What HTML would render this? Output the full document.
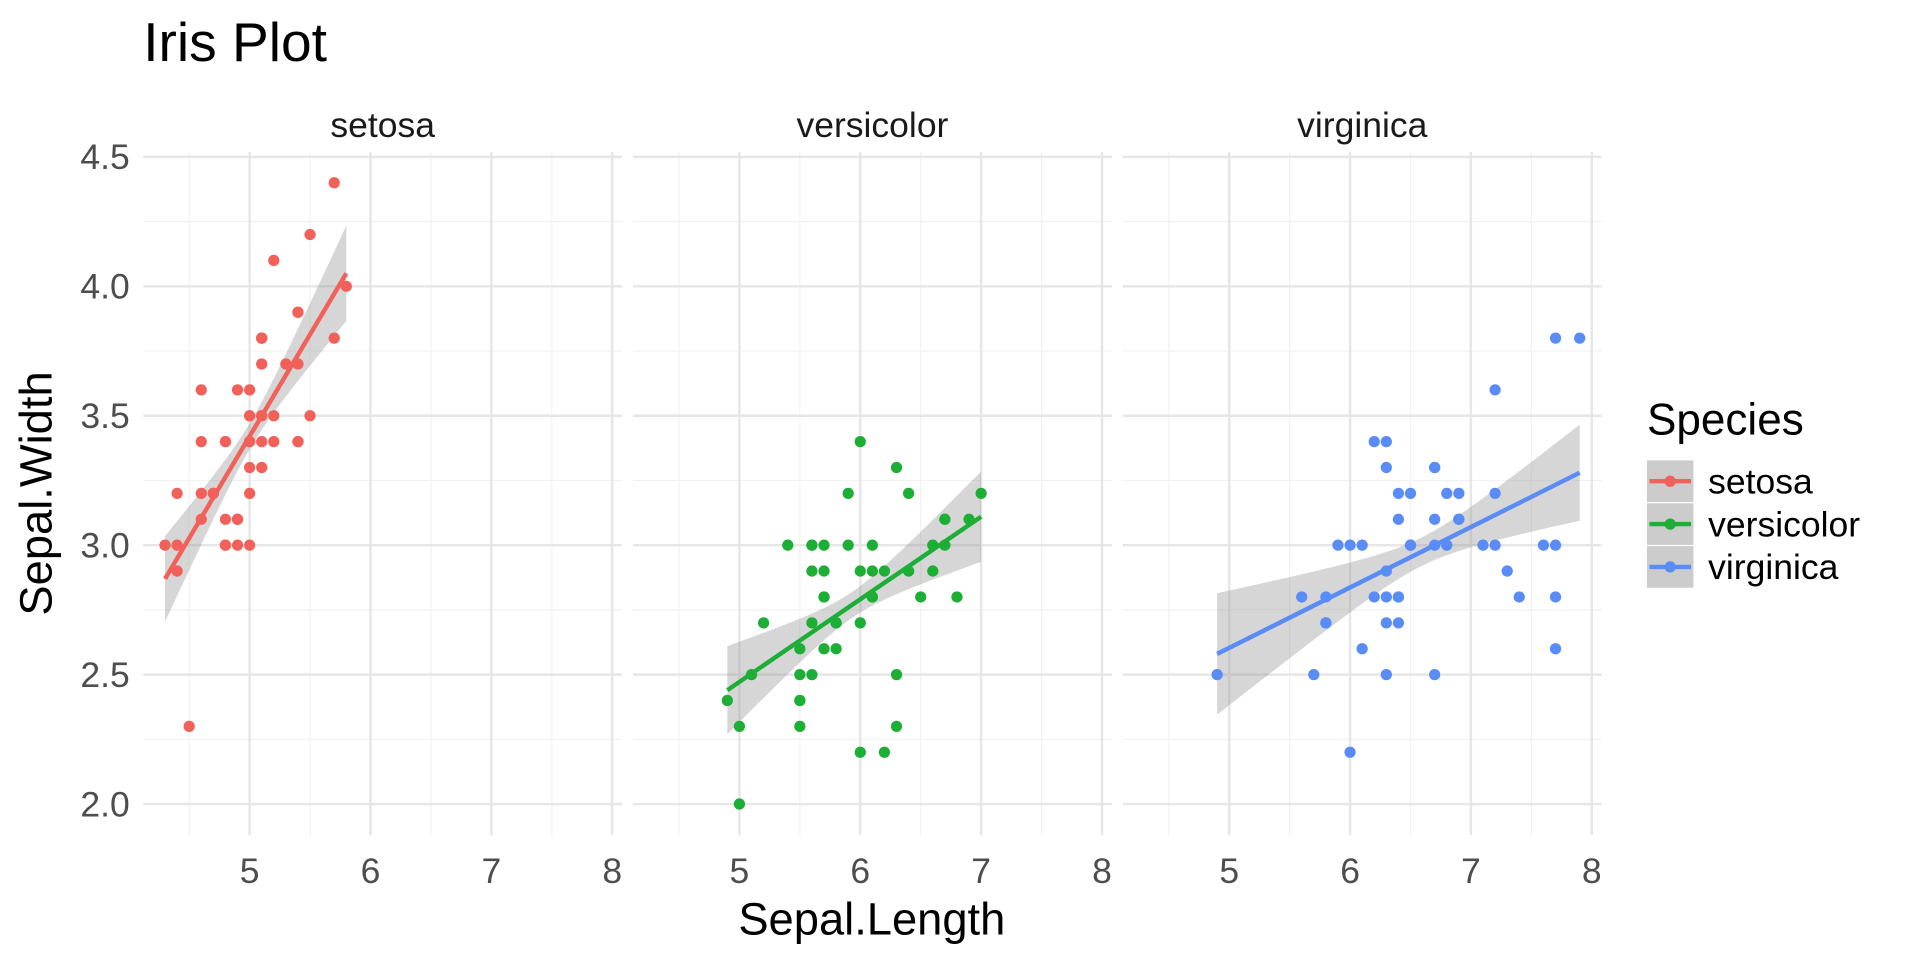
<!DOCTYPE html>
<html><head><meta charset="utf-8"><style>
html,body{margin:0;padding:0;background:#fff}
svg{display:block;font-family:"Liberation Sans",sans-serif}
</style></head><body>
<svg id="s" width="1920" height="960" viewBox="0 0 1568 784" xmlns="http://www.w3.org/2000/svg">
<rect width="1568" height="784" fill="#fff"/>
<g id="grid"></g><g id="bands"></g><g id="pts"></g><g id="lines"></g><g id="txt"></g>
<text x="117" y="50" font-size="45" fill="#000">Iris Plot</text>
<text x="712" y="763" font-size="37" text-anchor="middle" fill="#000">Sepal.Length</text>
<text transform="translate(42,403) rotate(-90)" font-size="37" text-anchor="middle" fill="#000">Sepal.Width</text>
<text x="1345" y="355" font-size="36" fill="#000">Species</text>
</svg>
<script>
const NS="http://www.w3.org/2000/svg";
function el(p,t,a,txt){const e=document.createElementNS(NS,t);for(const k in a)e.setAttribute(k,a[k]);if(txt!==undefined)e.textContent=txt;document.getElementById(p).appendChild(e);return e;}
const U=98.7, X0=[117,517,917], PW=391;
const X=(k,v)=>X0[k]+(v-4.12)*U;
const Y=v=>682-(v-1.88)*211.4;
const setosa="5.1,3.5;4.9,3.0;4.7,3.2;4.6,3.1;5.0,3.6;5.4,3.9;4.6,3.4;5.0,3.4;4.4,2.9;4.9,3.1;5.4,3.7;4.8,3.4;4.8,3.0;4.3,3.0;5.8,4.0;5.7,4.4;5.4,3.9;5.1,3.5;5.7,3.8;5.1,3.8;5.4,3.4;5.1,3.7;4.6,3.6;5.1,3.3;4.8,3.4;5.0,3.0;5.0,3.4;5.2,3.5;5.2,3.4;4.7,3.2;4.8,3.1;5.4,3.4;5.2,4.1;5.5,4.2;4.9,3.1;5.0,3.2;5.5,3.5;4.9,3.6;4.4,3.0;5.1,3.4;5.0,3.5;4.5,2.3;4.4,3.2;5.0,3.5;5.1,3.8;4.8,3.0;5.1,3.8;4.6,3.2;5.3,3.7;5.0,3.3";
const versi="7.0,3.2;6.4,3.2;6.9,3.1;5.5,2.3;6.5,2.8;5.7,2.8;6.3,3.3;4.9,2.4;6.6,2.9;5.2,2.7;5.0,2.0;5.9,3.0;6.0,2.2;6.1,2.9;5.6,2.9;6.7,3.1;5.6,3.0;5.8,2.7;6.2,2.2;5.6,2.5;5.9,3.2;6.1,2.8;6.3,2.5;6.1,2.8;6.4,2.9;6.6,3.0;6.8,2.8;6.7,3.0;6.0,2.9;5.7,2.6;5.5,2.4;5.5,2.4;5.8,2.7;6.0,2.7;5.4,3.0;6.0,3.4;6.7,3.1;6.3,2.3;5.6,3.0;5.5,2.5;5.5,2.6;6.1,3.0;5.8,2.6;5.0,2.3;5.6,2.7;5.7,3.0;5.7,2.9;6.2,2.9;5.1,2.5;5.7,2.8";
const virg="6.3,3.3;5.8,2.7;7.1,3.0;6.3,2.9;6.5,3.0;7.6,3.0;4.9,2.5;7.3,2.9;6.7,2.5;7.2,3.6;6.5,3.2;6.4,2.7;6.8,3.0;5.7,2.5;5.8,2.8;6.4,3.2;6.5,3.0;7.7,3.8;7.7,2.6;6.0,2.2;6.9,3.2;5.6,2.8;7.7,2.8;6.3,2.7;6.7,3.3;7.2,3.2;6.2,2.8;6.1,3.0;6.4,2.8;7.2,3.0;7.4,2.8;7.9,3.8;6.4,2.8;6.3,2.8;6.1,2.6;7.7,3.0;6.3,3.4;6.4,3.1;6.0,3.0;6.9,3.1;6.7,3.1;6.9,3.1;5.8,2.7;6.8,3.2;6.7,3.3;6.7,3.0;6.3,2.5;6.5,3.0;6.2,3.4;5.9,3.0";
const sp=[
 {n:"setosa",d:setosa,c:"#F2605A",x1:4.3,x2:5.8,y1:2.87,y2:4.05,m:5.006,a:0.05,b:0.223},
 {n:"versicolor",d:versi,c:"#1DAE35",x1:4.9,x2:7.0,y1:2.44,y2:3.11,m:5.936,a:0.05,b:0.157},
 {n:"virginica",d:virg,c:"#5A8CF7",x1:4.9,x2:7.9,y1:2.58,y2:3.28,m:6.588,a:0.055,b:0.135}];
sp.forEach((s,k)=>{
 for(let v=4.5;v<=8.01;v+=1) el("grid","line",{x1:X(k,v),x2:X(k,v),y1:124,y2:682,stroke:"#F2F2F2","stroke-width":1});
 for(let v=2.25;v<=4.5;v+=0.5) el("grid","line",{x1:X0[k],x2:X0[k]+PW,y1:Y(v),y2:Y(v),stroke:"#F2F2F2","stroke-width":1});
 for(let v=5;v<=8;v++) el("grid","line",{x1:X(k,v),x2:X(k,v),y1:124,y2:682,stroke:"#E6E6E6","stroke-width":2});
 for(let v=2;v<=4.5;v+=0.5) el("grid","line",{x1:X0[k],x2:X0[k]+PW,y1:Y(v),y2:Y(v),stroke:"#E6E6E6","stroke-width":2});
 for(let v=5;v<=8;v++) el("txt","text",{x:X(k,v),y:721,"font-size":29,"text-anchor":"middle",fill:"#4D4D4D"},String(v));
 el("txt","text",{x:X0[k]+PW/2,y:112,"font-size":29,"text-anchor":"middle",fill:"#1A1A1A"},s.n);
 const up=[],lo=[];const sl=(s.y2-s.y1)/(s.x2-s.x1);
 for(let i=0;i<=60;i++){const x=s.x1+(s.x2-s.x1)*i/60;const y=s.y1+sl*(x-s.x1);const h=Math.sqrt(s.a*s.a+s.b*s.b*(x-s.m)*(x-s.m));up.push(X(k,x)+","+Y(y+h));lo.unshift(X(k,x)+","+Y(y-h));}
 el("bands","polygon",{points:up.concat(lo).join(" "),fill:"#999","fill-opacity":0.4});
 s.d.split(";").forEach(p=>{const [a,b]=p.split(",").map(Number);el("pts","circle",{cx:X(k,a),cy:Y(b),r:4.6,fill:s.c});});
 el("lines","line",{x1:X(k,s.x1),y1:Y(s.y1),x2:X(k,s.x2),y2:Y(s.y2),stroke:s.c,"stroke-width":3.6});
 const ly=393+k*35;
 el("txt","rect",{x:1345,y:ly-17,width:38,height:34,fill:"#CCCCCC"});
 el("txt","line",{x1:1347,x2:1381,y1:ly,y2:ly,stroke:s.c,"stroke-width":3.6});
 el("txt","circle",{cx:1364,cy:ly,r:4.6,fill:s.c});
 el("txt","text",{x:1395,y:ly+10,"font-size":29,fill:"#000"},s.n);
});
for(let v=2;v<=4.5;v+=0.5) el("txt","text",{x:106,y:Y(v)+10,"font-size":29,"text-anchor":"end",fill:"#4D4D4D"},v.toFixed(1));
</script>
</body></html>
